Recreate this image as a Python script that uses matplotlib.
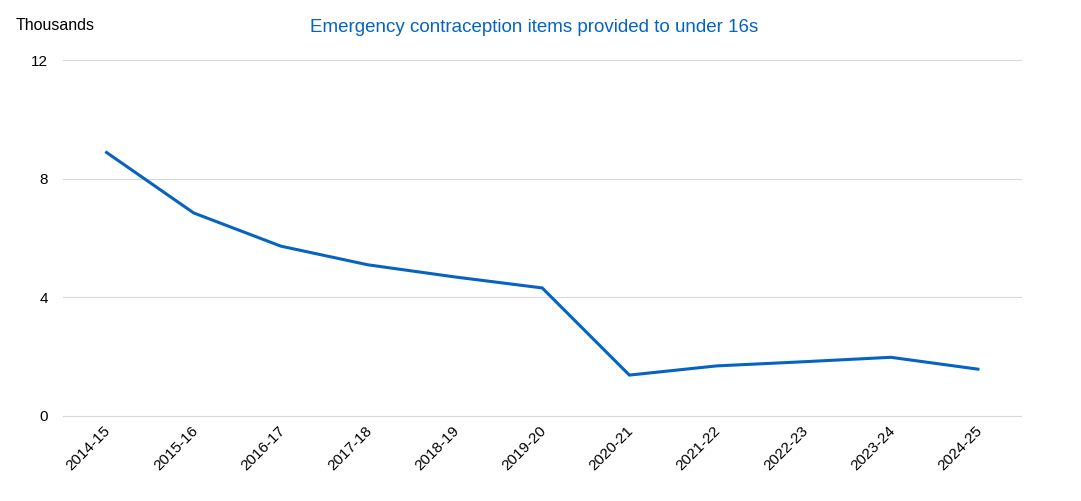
import matplotlib.pyplot as plt
from matplotlib.transforms import ScaledTranslation

plt.rcParams['font.family'] = ['Liberation Sans', 'DejaVu Sans']

years = ['2014-15', '2015-16', '2016-17', '2017-18', '2018-19', '2019-20',
         '2020-21', '2021-22', '2022-23', '2023-24', '2024-25']
items = [8.88, 6.84, 5.72, 5.09, 4.68, 4.31, 1.37, 1.68, 1.82, 1.97, 1.57]

blue = '#0563C1'

fig = plt.figure(figsize=(10.81, 5.01), dpi=100)
ax = fig.add_axes([63/1081, 1 - 415.7/501, (1021.5-63)/1081, (415.7-60)/501])

x = list(range(len(years)))
ax.plot(x, items, color=blue, linewidth=2.2, solid_joinstyle='miter')

ax.set_xlim(-0.5, len(years) - 0.5)
ax.set_ylim(0, 12)
ax.set_yticks([0, 4, 8, 12])
ax.set_xticks(x)
ax.set_xticklabels(years, rotation=45, ha='right', rotation_mode='anchor')
ax.tick_params(axis='both', length=0, labelsize=11, colors='black')
ax.tick_params(axis='y', pad=11)
ax.tick_params(axis='x', pad=7)
off = ScaledTranslation(-3/100, 2/100, fig.dpi_scale_trans)
for lbl in ax.get_xticklabels():
    lbl.set_transform(lbl.get_transform() + off)
ax.grid(axis='y', color='#D9D9D9', linewidth=0.8)
for gl in ax.get_ygridlines():
    gl.set_clip_on(False)
ax.set_axisbelow(True)
for s in ax.spines.values():
    s.set_visible(False)

fig.text(16/1081, 1 - 25/501, 'Thousands', fontsize=11.5, va='center', ha='left')
fig.text(534/1081, 1 - 27/501, 'Emergency contraception items provided to under 16s',
         fontsize=13.5, color=blue, va='center', ha='center')

fig.savefig('out.png', dpi=100)
